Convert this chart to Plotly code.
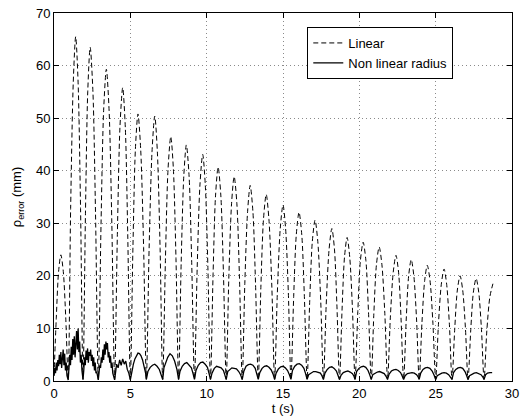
import plotly.graph_objects as go

# ---- Data ----
# Linear (dashed): humps with near-zero minima
lin_t = [0, 0.15, 0.3, 0.45, 0.61, 0.77, 0.93,
         1.09, 1.26, 1.42, 1.58, 1.74, 1.9,
         2.06, 2.21, 2.37, 2.55, 2.72, 2.9,
         3.08, 3.25, 3.43, 3.61, 3.79, 3.97,
         4.15, 4.32, 4.5, 4.67, 4.83, 5.0,
         5.17, 5.33, 5.5, 5.68, 5.87, 6.05,
         6.23, 6.42, 6.6, 6.77, 6.95, 7.12,
         7.3, 7.47, 7.65, 7.82, 7.99, 8.16,
         8.33, 8.5, 8.67, 8.85, 9.02, 9.2,
         9.38, 9.56, 9.74, 9.91, 10.08, 10.25,
         10.42, 10.58, 10.75, 10.93, 11.1, 11.28,
         11.45, 11.63, 11.8, 11.98, 12.15, 12.33,
         12.5, 12.68, 12.85, 13.03, 13.2, 13.38,
         13.55, 13.72, 13.9, 14.08, 14.27, 14.45,
         14.63, 14.82, 15.0, 15.17, 15.35, 15.52,
         15.7, 15.87, 16.05, 16.23, 16.4, 16.58,
         16.75, 16.92, 17.1, 17.28, 17.47, 17.65,
         17.83, 18.02, 18.2, 18.37, 18.53, 18.7,
         18.87, 19.03, 19.2, 19.37, 19.55, 19.72,
         19.9, 20.07, 20.25, 20.43, 20.6, 20.78,
         20.95, 21.12, 21.3, 21.48, 21.67, 21.85,
         22.03, 22.22, 22.4, 22.57, 22.73, 22.9,
         23.07, 23.23, 23.4, 23.57, 23.75, 23.92,
         24.1, 24.28, 24.45, 24.63, 24.82, 25.0,
         25.18, 25.37, 25.55, 25.72, 25.9, 26.07,
         26.25, 26.42, 26.6, 26.77, 26.95, 27.12,
         27.3, 27.47, 27.65, 27.82, 28.0, 28.17,
         28.35, 28.55, 28.75]
lin_y = [1, 12, 20.8, 24, 20.8, 12, 0.3,
         32.8, 56.7, 65.5, 56.7, 32.8, 0.3,
         31.8, 55, 63.5, 55, 31.8, 0.3,
         29.7, 51.4, 59.3, 51.4, 29.7, 0.3,
         27.9, 48.3, 55.8, 48.3, 27.9, 0.3,
         25.4, 44, 50.8, 44, 25.4, 0.3,
         25.2, 43.6, 50.4, 43.6, 25.2, 0.3,
         23.3, 40.3, 46.5, 40.3, 23.3, 0.3,
         22.5, 38.9, 44.9, 38.9, 22.5, 0.3,
         21.6, 37.3, 43.1, 37.3, 21.6, 0.3,
         20.4, 35.2, 40.7, 35.2, 20.4, 0.3,
         19.5, 33.7, 38.9, 33.7, 19.5, 0.3,
         18.6, 32.2, 37.2, 32.2, 18.6, 0.3,
         17.8, 30.7, 35.5, 30.7, 17.8, 0.3,
         16.8, 29, 33.5, 29, 16.8, 0.3,
         16.1, 27.8, 32.1, 27.8, 16.1, 0.3,
         15.3, 26.5, 30.6, 26.5, 15.3, 0.3,
         14.5, 25.1, 29, 25.1, 14.5, 0.3,
         13.7, 23.6, 27.3, 23.6, 13.7, 0.3,
         13.2, 22.9, 26.4, 22.9, 13.2, 0.3,
         12.8, 22.1, 25.5, 22.1, 12.8, 0.3,
         12, 20.7, 23.9, 20.7, 12, 0.3,
         11.6, 20, 23.1, 20, 11.6, 0.3,
         11, 19.1, 22, 19.1, 11, 0.3,
         10.7, 18.4, 21.3, 18.4, 10.7, 0.3,
         10, 17.3, 20, 17.3, 10, 0.3,
         9.8, 16.9, 19.5, 16.9, 9.8, 0.3,
         9.5, 16, 18.5]

# Non linear radius (solid)
nl_t = [0, 0.05, 0.1, 0.15, 0.2, 0.25, 0.3, 0.35, 0.4, 0.45, 0.5, 0.55, 0.6, 0.65, 0.7, 0.75, 0.8, 0.85, 0.93,
        0.98, 1.03, 1.08, 1.13, 1.18, 1.23, 1.28, 1.33, 1.38, 1.43, 1.48, 1.53, 1.58, 1.63, 1.68, 1.73, 1.78, 1.83, 1.9,
        1.95, 2.0, 2.05, 2.1, 2.15, 2.2, 2.25, 2.3, 2.35, 2.4, 2.45, 2.5, 2.55, 2.6, 2.65, 2.7, 2.75, 2.8, 2.9,
        2.95, 3.0, 3.05, 3.1, 3.15, 3.2, 3.25, 3.3, 3.35, 3.4, 3.45, 3.5, 3.55, 3.6, 3.65, 3.7, 3.75, 3.8, 3.85, 3.9, 3.97,
        4.05, 4.1, 4.2, 4.3, 4.4, 4.5, 4.6, 4.7, 4.8, 4.9, 5.0,
        5.1, 5.2, 5.3, 5.4, 5.5, 5.6, 5.7, 5.8, 5.9, 6.0, 6.05,
        6.15, 6.3, 6.45, 6.6, 6.75, 6.9, 7.0, 7.12,
        7.2, 7.3, 7.45, 7.6, 7.75, 7.9, 8.05, 8.16,
        8.25, 8.4, 8.55, 8.7, 8.85, 9.0, 9.1, 9.2,
        9.3, 9.45, 9.6, 9.75, 9.9, 10.05, 10.15, 10.25,
        10.35, 10.5, 10.65, 10.8, 10.95, 11.1, 11.2, 11.28,
        11.38, 11.5, 11.65, 11.8, 11.95, 12.1, 12.22, 12.33,
        12.43, 12.58, 12.73, 12.88, 13.03, 13.18, 13.28, 13.38,
        13.48, 13.63, 13.78, 13.93, 14.08, 14.23, 14.35, 14.45,
        14.55, 14.7, 14.85, 15.0, 15.15, 15.3, 15.42, 15.52,
        15.62, 15.77, 15.92, 16.07, 16.22, 16.37, 16.48, 16.58,
        16.68, 16.85, 17.0, 17.15, 17.3, 17.45, 17.55, 17.65,
        17.75, 17.9, 18.05, 18.2, 18.35, 18.5, 18.6, 18.7,
        18.8, 18.95, 19.1, 19.25, 19.4, 19.55, 19.65, 19.72,
        19.82, 19.97, 20.12, 20.27, 20.42, 20.57, 20.68, 20.78,
        20.88, 21.03, 21.18, 21.33, 21.48, 21.63, 21.75, 21.85,
        21.95, 22.1, 22.25, 22.4, 22.55, 22.7, 22.8, 22.9,
        23.0, 23.15, 23.3, 23.45, 23.6, 23.75, 23.85, 23.92,
        24.02, 24.17, 24.32, 24.47, 24.62, 24.77, 24.9, 25.0,
        25.1, 25.25, 25.4, 25.55, 25.7, 25.85, 25.97, 26.07,
        26.17, 26.32, 26.47, 26.62, 26.77, 26.92, 27.02, 27.12,
        27.22, 27.37, 27.52, 27.67, 27.82, 27.97, 28.08, 28.17,
        28.27, 28.4, 28.55, 28.7]
nl_y = [1.0, 2.5, 1.5, 3.5, 2.0, 4.0, 2.8, 5.0, 3.2, 5.5, 2.5, 4.5, 6.0, 3.0, 5.2, 2.0, 3.5, 1.0, 0.2,
        2.5, 5.0, 3.0, 6.5, 4.0, 8.0, 5.0, 8.5, 4.5, 7.0, 9.5, 6.0, 10.0, 5.5, 7.5, 3.5, 5.0, 2.0, 0.3,
        2.0, 4.5, 3.0, 5.8, 4.0, 6.2, 3.5, 5.5, 4.8, 6.0, 3.8, 5.0, 2.8, 4.5, 2.0, 3.5, 1.5, 1.8, 0.2,
        1.5, 3.0, 2.5, 4.5, 3.5, 6.0, 4.0, 7.0, 5.0, 7.5, 6.0, 7.2, 4.5, 5.5, 3.5, 4.8, 2.5, 3.5, 1.5, 1.0, 0.2,
        2.0, 3.2, 2.5, 4.0, 3.0, 4.2, 3.2, 3.8, 2.2, 1.5, 0.2,
        2.0, 3.2, 4.2, 4.8, 5.3, 5.2, 4.8, 4.0, 3.0, 1.5, 0.3,
        1.8, 2.6, 3.0, 3.2, 2.8, 2.2, 1.5, 0.3,
        2.5, 3.5, 4.5, 5.2, 4.8, 3.8, 2.2, 0.3,
        1.8, 2.8, 3.3, 3.5, 3.0, 2.5, 1.5, 0.3,
        2.0, 3.0, 3.5, 3.6, 3.2, 2.6, 1.5, 0.3,
        1.5, 2.4, 2.8, 2.7, 2.5, 2.0, 1.2, 0.3,
        1.8, 2.2, 2.5, 2.4, 2.3, 1.8, 1.2, 0.3,
        1.8, 2.8, 3.1, 3.2, 3.0, 2.4, 1.4, 0.3,
        1.6, 2.4, 2.8, 2.9, 2.6, 2.1, 1.3, 0.3,
        1.5, 2.3, 2.7, 2.8, 2.5, 2.0, 1.2, 0.3,
        2.0, 2.8, 3.2, 3.3, 3.0, 2.4, 1.4, 0.3,
        1.2, 1.6, 1.8, 1.8, 1.7, 1.5, 1.0, 0.3,
        1.5, 2.2, 2.6, 2.7, 2.4, 1.9, 1.1, 0.3,
        1.1, 1.6, 1.8, 1.9, 1.7, 1.4, 0.9, 0.3,
        1.8, 2.4, 2.7, 2.8, 2.6, 2.0, 1.2, 0.3,
        1.2, 1.5, 1.7, 1.8, 1.6, 1.4, 0.9, 0.3,
        1.3, 1.9, 2.1, 2.2, 2.0, 1.6, 1.0, 0.3,
        1.0, 1.4, 1.5, 1.6, 1.5, 1.2, 0.8, 0.3,
        1.5, 2.2, 2.5, 2.6, 2.4, 1.9, 1.1, 0.3,
        1.0, 1.3, 1.5, 1.6, 1.5, 1.2, 0.8, 0.3,
        1.6, 2.2, 2.5, 2.6, 2.4, 1.8, 1.1, 0.3,
        1.0, 1.3, 1.5, 1.6, 1.4, 1.2, 0.8, 0.3,
        1.2, 1.5, 1.6, 1.6]

x_ticks = [0, 5, 10, 15, 20, 25, 30]
y_ticks = [0, 10, 20, 30, 40, 50, 60, 70]

FONT = "Liberation Sans, Arial, Helvetica, sans-serif"

fig = go.Figure()
fig.add_trace(go.Scatter(x=lin_t, y=lin_y, mode="lines", name="Linear",
                         line=dict(color="black", width=1, dash="5px,3px", shape="spline", smoothing=0.8)))
fig.add_trace(go.Scatter(x=nl_t, y=nl_y, mode="lines", name="Non linear radius",
                         line=dict(color="black", width=1.3)))

axis_common = dict(
    showline=True, linecolor="black", linewidth=1, mirror="allticks",
    ticks="inside", ticklen=5, tickcolor="black",
    showgrid=True, gridcolor="#8a8a8a", griddash="1px,3px", gridwidth=1,
    zeroline=False, tickfont=dict(family=FONT, size=13, color="black"),
    ticklabeloverflow="allow",
)

fig.update_layout(
    width=525, height=419,
    margin=dict(l=54, r=6, t=10, b=38),
    paper_bgcolor="white", plot_bgcolor="white",
    font=dict(family=FONT, size=13, color="black"),
    xaxis=dict(range=[0, 30], tickvals=x_ticks,
               title=dict(text="t (s)", standoff=0, font=dict(size=13)), **axis_common),
    yaxis=dict(range=[0, 70], tickvals=y_ticks,
               title=dict(text="ρ<sub>error</sub> (mm)", standoff=11, font=dict(size=13)), **axis_common),
    legend=dict(x=0.553, y=0.962, xanchor="left", yanchor="top",
                bgcolor="white", bordercolor="black", borderwidth=1,
                font=dict(family=FONT, size=13), tracegroupgap=0, itemwidth=30),
    showlegend=True,
)

fig.write_html("out.html", config={"displayModeBar": False},
               post_script="document.body.style.margin='0';document.body.style.padding='0';")
